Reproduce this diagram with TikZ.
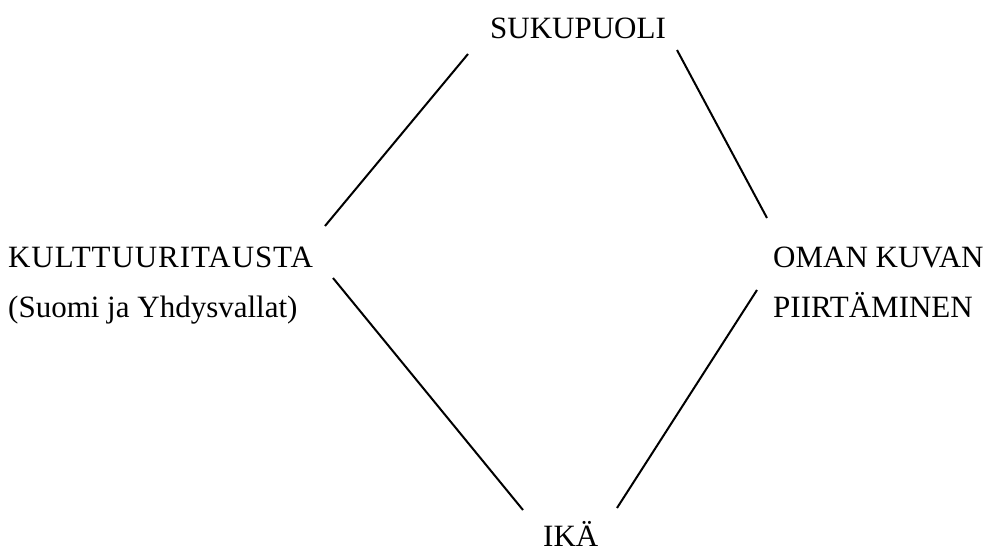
\documentclass[tikz,border=0pt]{standalone}
\usepackage{fontspec}
\setmainfont{Liberation Serif}
\begin{document}
\begin{tikzpicture}[x=1pt,y=-1pt,
  lbl/.style={inner sep=0pt,anchor=base west,font=\fontsize{31}{36}\selectfont},
  link/.style={line width=2pt}]
\useasboundingbox (0,0) rectangle (997,554);
\node[lbl] (suku) at (490,38) {SUKUPUOLI};
\node[lbl] (kult) at (8,267) {\addfontfeature{LetterSpace=3}KULTTUURITAUSTA};
\node[lbl] (suomi) at (8,317) {(Suomi ja Yhdysvallat)};
\node[lbl] (oman) at (773,267) {OMAN KUVAN};
\node[lbl] (piirt) at (773,317) {PIIRTÄMINEN};
\node[lbl] (ika) at (543,546) {IKÄ};
\coordinate (sl) at (468,54);
\coordinate (kt) at (325,226);
\coordinate (sr) at (677,50);
\coordinate (ot) at (767,218);
\coordinate (kb) at (333,278);
\coordinate (il) at (523,510);
\coordinate (ob) at (757,290);
\coordinate (ir) at (617,508);
\draw[link] (sl) -- (kt);
\draw[link] (sr) -- (ot);
\draw[link] (kb) -- (il);
\draw[link] (ob) -- (ir);
\end{tikzpicture}
\end{document}
